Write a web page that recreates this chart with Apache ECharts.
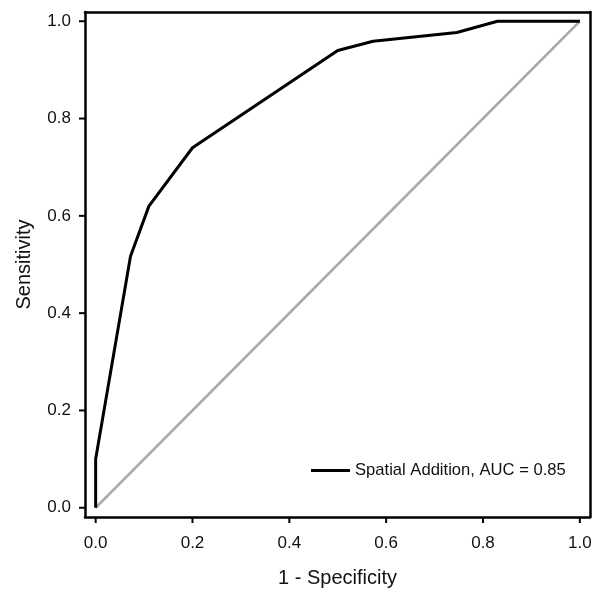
<!DOCTYPE html>
<html><head><meta charset="utf-8">
<script src="https://cdn.jsdelivr.net/npm/echarts@6/dist/echarts.min.js"></script>
<style>html,body{margin:0;padding:0;background:#fff}#c{width:600px;height:589px}</style>
</head><body><div id="c"></div>
<script>
var fpr = [0, 0, 0.072, 0.11, 0.2, 0.5, 0.573, 0.746, 0.83, 1.0];
var tpr = [0, 0.1, 0.517, 0.62, 0.74, 0.94, 0.959, 0.977, 1.0, 1.0];
var refX = [0, 1];
var refY = [0, 1];
var tickVals = [0, 0.2, 0.4, 0.6, 0.8, 1.0];
var seriesName = 'Spatial Addition, AUC = 0.85';
var xTitle = '1 - Specificity';
var yTitle = 'Sensitivity';

var font = 'Liberation Sans, Arial, sans-serif';
var chart = echarts.init(document.getElementById('c'));
function pairs(a, b) { return a.map(function (v, i) { return [v, b[i]]; }); }
var XMIN = -0.022, XMAX = 1.021, YMIN = -0.019, YMAX = 1.019;
var TICK = 6;
var lineSt = { color: '#000', width: 2.5 };
function fmt(v) { return v.toFixed(1); }
function frameAxis(pos) {
  return { type: 'value', position: pos, min: 0, max: 1,
    axisLine: { show: true, onZero: false, lineStyle: lineSt },
    splitLine: { show: false }, axisTick: { show: false }, axisLabel: { show: false } };
}
function tickSeries(data, horiz) {
  return {
    name: horiz ? 'xticks' : 'yticks', type: 'custom', clip: false, silent: true, z: 5,
    data: data,
    renderItem: function (params, api) {
      var p = api.coord([api.value(0), api.value(1)]);
      var shape = horiz ? { x1: p[0], y1: p[1], x2: p[0], y2: p[1] + TICK }
                        : { x1: p[0], y1: p[1], x2: p[0] - TICK, y2: p[1] };
      return { type: 'line', shape: shape, style: { stroke: '#000', lineWidth: 2 } };
    }
  };
}
chart.setOption({
  animation: false,
  grid: { left: 85, right: 10, top: 12, bottom: 72, show: false, containLabel: false, outerBoundsMode: 'none' },
  legend: {
    data: [{ name: seriesName, icon: 'rect' }], left: 306, top: 457, itemWidth: 39, itemHeight: 3, itemGap: 10,
    itemStyle: { color: '#000' },
    textStyle: { fontFamily: font, fontSize: 16.6, color: '#111' }
  },
  xAxis: [{
    type: 'value', position: 'bottom', min: XMIN, max: XMAX,
    name: xTitle, nameLocation: 'middle', nameGap: 51,
    nameTextStyle: { fontFamily: font, fontSize: 20, color: '#111' },
    axisLine: { show: true, onZero: false, lineStyle: lineSt },
    splitLine: { show: false },
    axisTick: { show: false },
    axisLabel: { customValues: tickVals, margin: 18, fontFamily: font, fontSize: 17, color: '#111', formatter: fmt }
  }, frameAxis('top')],
  yAxis: [{
    type: 'value', position: 'left', min: YMIN, max: YMAX,
    name: yTitle, nameLocation: 'middle', nameGap: 51,
    nameTextStyle: { fontFamily: font, fontSize: 20, color: '#111' },
    axisLine: { show: true, onZero: false, lineStyle: lineSt },
    splitLine: { show: false },
    axisTick: { show: false },
    axisLabel: { customValues: tickVals, margin: 14, fontFamily: font, fontSize: 17, color: '#111', formatter: fmt }
  }, frameAxis('right')],
  series: [
    { name: 'ref', type: 'line', data: pairs(refX, refY), symbol: 'none', lineStyle: { color: '#aaaaaa', width: 2.5 }, z: 2 },
    { name: seriesName, type: 'line', data: pairs(fpr, tpr), symbol: 'none', lineStyle: { color: '#000', width: 3 }, itemStyle: { color: '#000' }, z: 3 },
    tickSeries(tickVals.map(function (v) { return [v, YMIN]; }), true),
    tickSeries(tickVals.map(function (v) { return [XMIN, v]; }), false)
  ]
});
</script></body></html>
